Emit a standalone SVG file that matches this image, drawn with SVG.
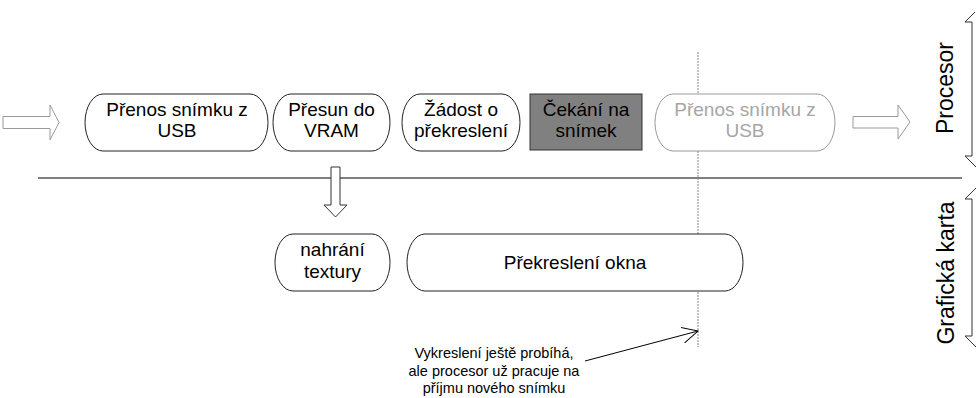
<svg xmlns="http://www.w3.org/2000/svg" width="978" height="398" viewBox="0 0 978 398">
<style>
text{font-family:"Liberation Sans",Arial,sans-serif;}
.t{font-size:19px;fill:#000;text-anchor:middle;}
.tg{font-size:19px;fill:#a6a6a6;text-anchor:middle;}
.node{fill:#fff;stroke:#222;stroke-width:1;}
.nodeg{fill:#fff;stroke:#999;stroke-width:1;}
.barrow{fill:#fff;stroke:#999;stroke-width:1;}
.side{font-size:23px;fill:#000;text-anchor:middle;}
.ann{font-size:14.5px;fill:#000;text-anchor:middle;}
.br{fill:none;stroke:#333;stroke-width:1;}
</style>
<defs>
<marker id="open" markerUnits="userSpaceOnUse" markerWidth="18" markerHeight="18" refX="16" refY="8" orient="auto">
<path d="M0,0 L16,8 L0,16" fill="none" stroke="#000" stroke-width="1"/>
</marker>
</defs>
<rect width="978" height="398" fill="#fff"/>

<g id="connectors">
<line x1="38" y1="178" x2="962" y2="178" stroke="#000" stroke-width="1"/>
<line x1="698" y1="52" x2="698" y2="347" stroke="#888" stroke-width="1" stroke-dasharray="2,1"/>
<polygon id="arrow-in" class="barrow" points="3,116.5 50,116.5 50,105 59,122.5 50,140 50,128.5 3,128.5"/>
<polygon id="arrow-out" class="barrow" points="853,116.5 898,116.5 898,105 910,122 898,139 898,128 853,128"/>
<polygon id="arrow-down" points="331,167 340,167 340,205 347,205 335.5,217 324,205 331,205" fill="#fff" stroke="#333" stroke-width="1"/>
<line x1="585" y1="361" x2="698" y2="331" stroke="#000" stroke-width="1" marker-end="url(#open)"/>
</g>

<g id="node-prenos1">
<path class="node" d="M103,94 H250 A18,28.5 0 0 1 250,151 H103 A18,28.5 0 0 1 103,94 Z"/>
<text class="t" x="177" y="115.5">Přenos snímku z</text>
<text class="t" x="177" y="137">USB</text>
</g>
<g id="node-presun">
<path class="node" d="M291,94 H372 A18,28.5 0 0 1 372,151 H291 A18,28.5 0 0 1 291,94 Z"/>
<text class="t" x="331.5" y="115.5">Přesun do</text>
<text class="t" x="331.5" y="137">VRAM</text>
</g>
<g id="node-zadost">
<path class="node" d="M420,94 H502 A18,28.5 0 0 1 502,151 H420 A18,28.5 0 0 1 420,94 Z"/>
<text class="t" x="461" y="115.5">Žádost o</text>
<text class="t" x="461" y="137">překreslení</text>
</g>
<g id="node-cekani">
<rect x="530" y="94" width="112" height="56" fill="#808080" stroke="#333" stroke-width="1"/>
<text class="t" x="586" y="115.5">Čekání na</text>
<text class="t" x="586" y="137">snímek</text>
</g>
<g id="node-prenos2">
<path class="nodeg" d="M673,94 H817 A18,28.5 0 0 1 817,151 H673 A18,28.5 0 0 1 673,94 Z"/>
<text class="tg" x="745" y="115.5">Přenos snímku z</text>
<text class="tg" x="745" y="137">USB</text>
</g>
<g id="node-nahrani">
<path class="node" d="M293,234 H372 A18,28.5 0 0 1 372,291 H293 A18,28.5 0 0 1 293,234 Z"/>
<text class="t" x="332.5" y="256">nahrání</text>
<text class="t" x="332.5" y="277.5">textury</text>
</g>
<g id="node-prekresleni">
<path class="node" d="M425,234 H725 A18,28.5 0 0 1 725,291 H425 A18,28.5 0 0 1 425,234 Z"/>
<text class="t" x="575" y="269">Překreslení okna</text>
</g>

<g id="label-procesor">
<path class="br" d="M975,12 L965,22 L972,22 L972,156 L965,156 L976,167"/>
<text class="side" transform="translate(953,88) rotate(-90)">Procesor</text>
</g>
<g id="label-graficka">
<path class="br" d="M976,188 L965,199 L972,199 L972,336 L965,336 L976,347"/>
<text class="side" transform="translate(954,273) rotate(-90)">Grafická karta</text>
</g>

<g id="annotation">
<text class="ann" x="494" y="358">Vykreslení ještě probíhá,</text>
<text class="ann" x="494" y="376">ale procesor už pracuje na</text>
<text class="ann" x="494" y="393">příjmu nového snímku</text>
</g>
</svg>
